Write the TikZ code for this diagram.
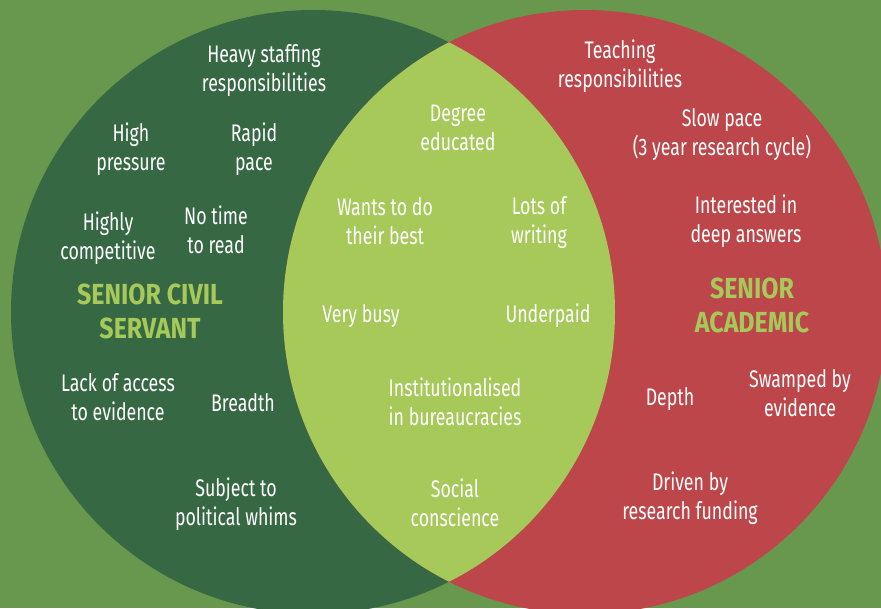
\documentclass[tikz,border=0pt]{standalone}
\usepackage{fontspec}
\setmainfont{Fira Sans}[FakeStretch=0.74]
\newfontfamily\headfont{Fira Sans}[FakeStretch=0.86]
\definecolor{bggreen}{RGB}{104,152,78}
\definecolor{darkgreen}{RGB}{55,104,68}
\definecolor{lightgreen}{RGB}{166,201,90}
\definecolor{academicred}{RGB}{188,70,74}
\begin{document}
\begin{tikzpicture}[x=0.75pt,y=-0.75pt,
    item/.style={align=center,text=white,inner sep=0pt,font=\fontsize{18}{21.75}\selectfont},
    title/.style={align=center,text=lightgreen,inner sep=0pt,font=\headfont\fontsize{21.75}{25.5}\selectfont\bfseries}]
        \useasboundingbox (0,0) rectangle (881,608);
        \fill[bggreen] (0,0) rectangle (881,608);

        \fill[darkgreen] (313,312) circle (302); %civil servant
        \fill[academicred] (585,312) circle (302); %academic
        \begin{scope}
            \clip (313,312) circle (302);
            \fill[lightgreen] (585,312) circle (302); %overlap
        \end{scope}

        \node[item] at (264,71) (staffing){Heavy staffing\\responsibilities};
        \node[item] at (131,149) (pressure){High\\pressure};
        \node[item] at (254,149) (rapid){Rapid\\pace};
        \node[item] at (108,238) (competitive){Highly\\competitive};
        \node[item] at (216,230) (noread){No time\\to read};
        \node[title] at (150,311) (civil){SENIOR CIVIL\\SERVANT};
        \node[item] at (118,397) (access){Lack of access\\to evidence};
        \node[item] at (243,403) (breadth){Breadth};
        \node[item] at (236,504) (whims){Subject to\\political whims};

        \node[item] at (458,128) (degree){Degree\\educated}; %both
        \node[item] at (385,221) (best){Wants to do\\their best};
        \node[item] at (539,223) (writing){Lots of\\writing};
        \node[item] at (361,316) (busy){Very busy};
        \node[item] at (548,316) (underpaid){Underpaid};
        \node[item] at (455,402) (institution){Institutionalised\\in bureaucracies};
        \node[item] at (455,503) (conscience){Social\\conscience};

        \node[item] at (620,66) (teaching){Teaching\\responsibilities};
        \node[item] at (722,135) (slow){Slow pace\\(3 year research cycle)};
        \node[item] at (746,221) (deep){Interested in\\deep answers};
        \node[title] at (752,305) (academic){SENIOR\\ACADEMIC};
        \node[item] at (670,399) (depth){Depth};
        \node[item] at (800,393) (swamped){Swamped by\\evidence};
        \node[item] at (690,498) (funding){Driven by\\research funding};
    \end{tikzpicture}
\end{document}
